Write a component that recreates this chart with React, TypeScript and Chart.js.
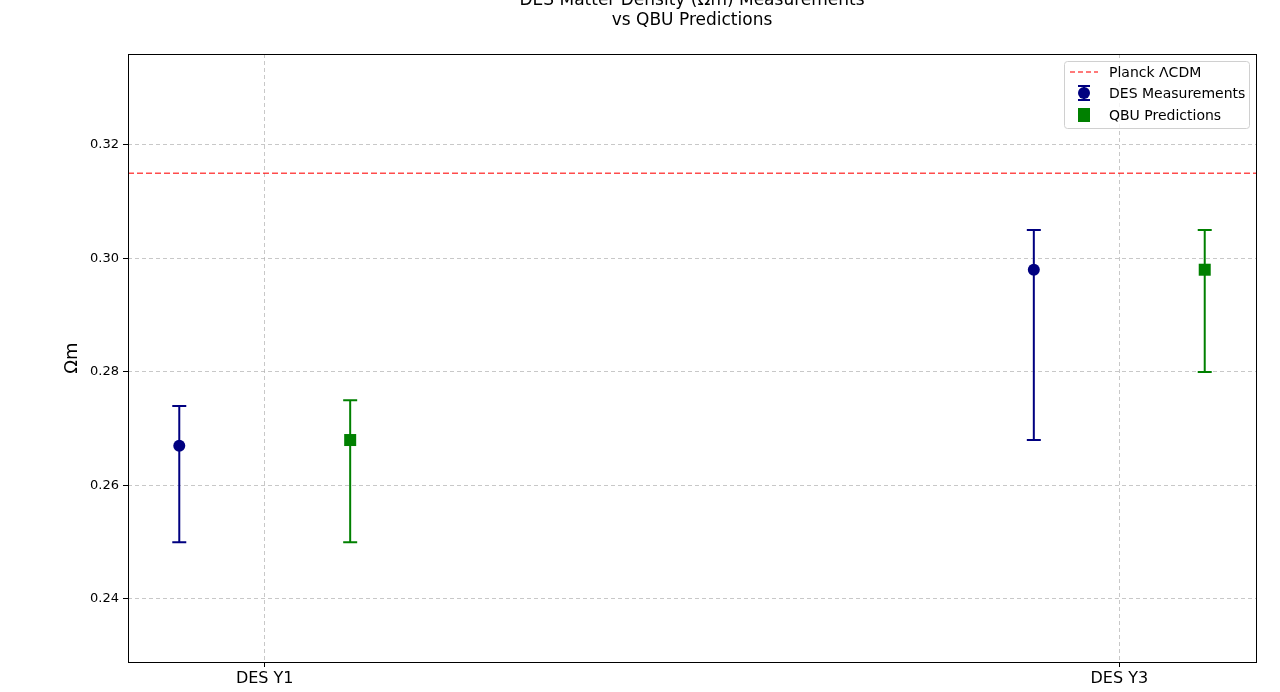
import React, { useEffect, useRef } from "react";
import { Chart, registerables } from "chart.js";

Chart.register(...registerables);

const categories = ["DES Y1", "DES Y3"];
const categoryPos = [0, 1];
const offset = 0.1;
const desValues = [0.267, 0.298];
const desLow = [0.25, 0.268];
const desHigh = [0.274, 0.305];
const qbuValues = [0.268, 0.298];
const qbuLow = [0.25, 0.28];
const qbuHigh = [0.275, 0.305];
const planckValue = 0.315;
const yTicks = [0.24, 0.26, 0.28, 0.3, 0.32];
const xMin = -0.16;
const xMax = 1.16;
const yMin = 0.2289;
const yMax = 0.336;

const titleLines = ["DES Matter Density (Ωm) Measurements", "vs QBU Predictions"];
const yLabel = "Ωm";
const legendLabels = ["Planck ΛCDM", "DES Measurements", "QBU Predictions"];

const NAVY = "#000080";
const GREEN = "#008000";
const RED = "rgba(255,0,0,0.7)";
const FONT = "'DejaVu Sans', sans-serif";

export default function App() {
  const ref = useRef<HTMLCanvasElement>(null);
  useEffect(() => {
    const canvas = ref.current!;
    const errPlugin = {
      id: "errbars",
      afterDatasetsDraw(chart: any) {
        const ctx = chart.ctx;
        const xs = chart.scales.x;
        const ys = chart.scales.y;
        const draw = (xv: number, lo: number, hi: number, color: string) => {
          const px = xs.getPixelForValue(xv);
          const pl = ys.getPixelForValue(lo);
          const ph = ys.getPixelForValue(hi);
          ctx.save();
          ctx.strokeStyle = color;
          ctx.lineWidth = 2;
          ctx.beginPath();
          ctx.moveTo(px, pl);
          ctx.lineTo(px, ph);
          ctx.moveTo(px - 7, pl);
          ctx.lineTo(px + 7, pl);
          ctx.moveTo(px - 7, ph);
          ctx.lineTo(px + 7, ph);
          ctx.stroke();
          ctx.restore();
        };
        categoryPos.forEach((c, i) => {
          draw(c - offset, desLow[i], desHigh[i], NAVY);
          draw(c + offset, qbuLow[i], qbuHigh[i], GREEN);
        });
        categoryPos.forEach((c, i) => {
          const dx = xs.getPixelForValue(c - offset);
          const dy = ys.getPixelForValue(desValues[i]);
          ctx.save();
          ctx.fillStyle = NAVY;
          ctx.beginPath();
          ctx.arc(dx, dy, 6, 0, Math.PI * 2);
          ctx.fill();
          const qx = xs.getPixelForValue(c + offset);
          const qy = ys.getPixelForValue(qbuValues[i]);
          ctx.fillStyle = GREEN;
          ctx.fillRect(qx - 6, qy - 6, 12, 12);
          ctx.restore();
        });
      },
    };
    const framePlugin = {
      id: "frame",
      afterDraw(chart: any) {
        const ctx = chart.ctx;
        const a = chart.chartArea;
        ctx.save();
        ctx.strokeStyle = "#000";
        ctx.lineWidth = 1;
        ctx.strokeRect(Math.round(a.left) + 0.5, Math.round(a.top) + 0.5, Math.round(a.right - a.left), Math.round(a.bottom - a.top));
        ctx.fillStyle = "#000";
        ctx.font = `17px ${FONT}`;
        ctx.textAlign = "center";
        ctx.textBaseline = "middle";
        const cx = (a.left + a.right) / 2;
        ctx.fillText(titleLines[0], cx, 1);
        ctx.fillText(titleLines[1], cx, 21);
        ctx.save();
        ctx.translate(72, (a.top + a.bottom) / 2);
        ctx.rotate(-Math.PI / 2);
        ctx.font = `18px ${FONT}`;
        ctx.fillText(yLabel, 0, 0);
        ctx.restore();
        const lx = 1064, ly = 61, lw = 185, lh = 67;
        ctx.fillStyle = "rgba(255,255,255,0.8)";
        ctx.strokeStyle = "#d0d0d0";
        ctx.lineWidth = 1;
        ctx.beginPath();
        ctx.roundRect(lx + 0.5, ly + 0.5, lw, lh, 3);
        ctx.fill();
        ctx.stroke();
        ctx.font = `14px ${FONT}`;
        ctx.textAlign = "left";
        ctx.fillStyle = "#000";
        const rows = [72, 93, 115];
        legendLabels.forEach((t, i) => ctx.fillText(t, 1109, rows[i] + 1));
        ctx.strokeStyle = RED;
        ctx.lineWidth = 1.5;
        ctx.setLineDash([5, 3]);
        ctx.beginPath();
        ctx.moveTo(1070, rows[0]);
        ctx.lineTo(1098, rows[0]);
        ctx.stroke();
        ctx.setLineDash([]);
        ctx.strokeStyle = NAVY;
        ctx.lineWidth = 2;
        ctx.beginPath();
        ctx.moveTo(1084, rows[1] - 7);
        ctx.lineTo(1084, rows[1] + 7);
        ctx.moveTo(1078, rows[1] - 7);
        ctx.lineTo(1090, rows[1] - 7);
        ctx.moveTo(1078, rows[1] + 7);
        ctx.lineTo(1090, rows[1] + 7);
        ctx.stroke();
        ctx.fillStyle = NAVY;
        ctx.beginPath();
        ctx.arc(1084, rows[1], 6, 0, Math.PI * 2);
        ctx.fill();
        ctx.fillStyle = GREEN;
        ctx.fillRect(1078, rows[2] - 7, 12, 14);
        ctx.restore();
      },
    };
    const chart = new Chart(canvas, {
      type: "scatter",
      data: {
        datasets: [
          {
            type: "line",
            label: legendLabels[0],
            data: [
              { x: xMin, y: planckValue },
              { x: xMax, y: planckValue },
            ],
            borderColor: RED,
            borderWidth: 1.5,
            borderDash: [6, 3],
            pointRadius: 0,
            fill: false,
          } as any,
          {
            label: legendLabels[1],
            data: categoryPos.map((c, i) => ({ x: c - offset, y: desValues[i] })),
            pointRadius: 0,
            backgroundColor: NAVY,
          },
          {
            label: legendLabels[2],
            data: categoryPos.map((c, i) => ({ x: c + offset, y: qbuValues[i] })),
            pointRadius: 0,
            pointStyle: "rect",
            backgroundColor: GREEN,
          },
        ],
      },
      plugins: [errPlugin, framePlugin],
      options: {
        responsive: false,
        animation: false,
        events: [],
        layout: { padding: { top: 54, right: 24, left: 0, bottom: 0 } },
        plugins: { legend: { display: false }, tooltip: { enabled: false }, title: { display: false } },
        scales: {
          x: {
            type: "linear",
            min: xMin,
            max: xMax,
            afterBuildTicks: (s: any) => {
              s.ticks = categoryPos.map((v) => ({ value: v }));
            },
            afterFit: (s: any) => {
              s.height = 30;
            },
            ticks: {
              callback: (v: any) => categories[categoryPos.indexOf(Number(v))] ?? "",
              color: "#000",
              font: { family: FONT, size: 16 },
              padding: 2,
              maxRotation: 0,
            },
            grid: {
              color: "rgba(176,176,176,0.7)",
              tickColor: "#000",
              tickLength: 5,
            },
            border: { display: false, dash: [4, 3] },
          },
          y: {
            type: "linear",
            min: yMin,
            max: yMax,
            afterBuildTicks: (s: any) => {
              s.ticks = yTicks.map((v) => ({ value: v }));
            },
            afterFit: (s: any) => {
              s.width = 128;
            },
            ticks: {
              callback: (v: any) => Number(v).toFixed(2),
              color: "#000",
              font: { family: FONT, size: 13 },
              padding: 4,
            },
            grid: {
              color: "rgba(176,176,176,0.7)",
              tickColor: "#000",
              tickLength: 5,
            },
            border: { display: false, dash: [4, 3] },
          },
        },
      },
    });
    return () => chart.destroy();
  }, []);
  return (
    <div style={{ position: "fixed", left: 0, top: 0, width: 1280, height: 692, background: "#fff" }}>
      <canvas ref={ref} width={1280} height={692} />
    </div>
  );
}
